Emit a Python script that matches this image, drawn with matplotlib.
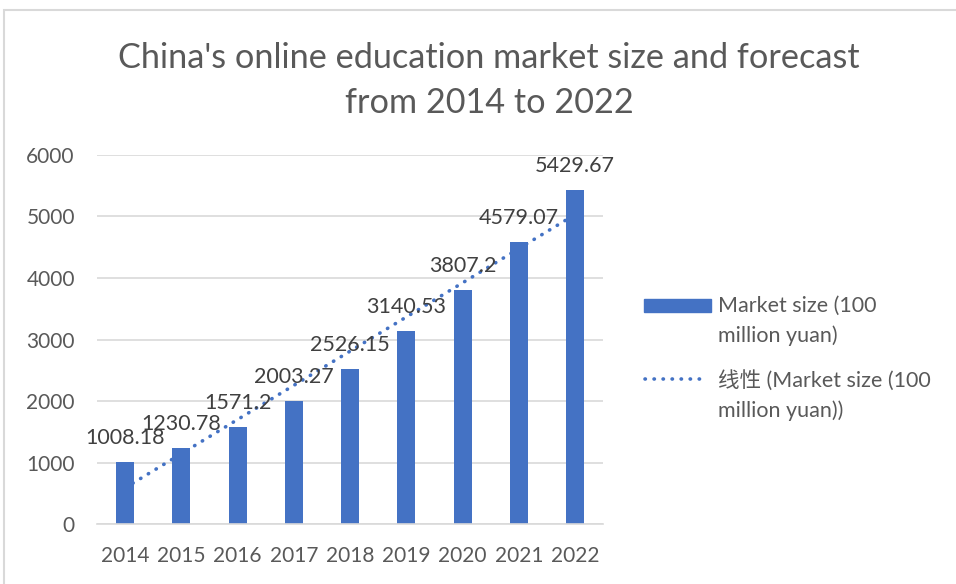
import numpy as np
import matplotlib.pyplot as plt
from matplotlib.lines import Line2D
from matplotlib.patches import Rectangle

plt.rcParams['font.family'] = ['Lato', 'Noto Sans CJK SC', 'DejaVu Sans']

years = ['2014', '2015', '2016', '2017', '2018', '2019', '2020', '2021', '2022']
market_size = [1008.18, 1230.78, 1571.2, 2003.27, 2526.15, 3140.53, 3807.2, 4579.07, 5429.67]
value_labels = ['1008.18', '1230.78', '1571.2', '2003.27', '2526.15', '3140.53', '3807.2', '4579.07', '5429.67']

blue = '#4472C4'
grey = '#595959'
dots = (0, (0.1, 2.4))

fig = plt.figure(figsize=(9.56, 5.84), dpi=100)
ax = fig.add_axes([0.1015, 0.1027, 0.5295, 0.6319])

x = np.arange(len(years))
ax.bar(x, market_size, width=0.32, color=blue, zorder=2)

# linear trendline (least squares fit, like Excel's)
coef = np.polyfit(x, market_size, 1)
ax.plot(x, np.polyval(coef, x), color=blue, linewidth=2.6,
        linestyle=dots, dash_capstyle='round', zorder=3)

for xi, v, lab in zip(x, market_size, value_labels):
    ax.annotate(lab, (xi, v), xytext=(0, 13), textcoords='offset points',
                ha='center', va='baseline', fontsize=15.5, color='#404040', zorder=4)

ax.set_xlim(-0.5, len(years) - 0.5)
ax.set_ylim(0, 6000)
ax.set_yticks(range(0, 6001, 1000))
ax.set_xticks(x)
ax.set_xticklabels(years)
ax.grid(axis='y', color='#d9d9d9', linewidth=1.2, zorder=0)
ax.set_axisbelow(True)
for s in ['top', 'right', 'left']:
    ax.spines[s].set_visible(False)
ax.spines['bottom'].set_color('#d9d9d9')
ax.spines['bottom'].set_linewidth(1.2)
ax.tick_params(axis='both', length=0, labelsize=15, labelcolor=grey)
ax.tick_params(axis='y', pad=16)
ax.tick_params(axis='x', pad=16)

fig.text(0.5115, 0.862, "China's online education market size and forecast\nfrom 2014 to 2022",
         ha='center', va='center', fontsize=24.7, color=grey, linespacing=1.48)

# legend
fig.patches.append(Rectangle((644 / 956, 1 - 312 / 584), 67 / 956, 13 / 584,
                             transform=fig.transFigure, color=blue))
fig.lines.append(Line2D([645 / 956, 706 / 956], [1 - 379 / 584] * 2, transform=fig.transFigure,
                        color=blue, linewidth=2.6, linestyle=dots, dash_capstyle='round'))
fig.text(718 / 956, 1 - 296 / 584, 'Market size (100\nmillion yuan)', ha='left', va='top',
         fontsize=15.5, color=grey, linespacing=1.55, transform=fig.transFigure)
fig.text(718 / 956, 1 - 370 / 584, '线性 (Market size (100\nmillion yuan))', ha='left', va='top',
         fontsize=15.5, color=grey, linespacing=1.55, transform=fig.transFigure)

# chart border
fig.patches.append(Rectangle((4 / 956, -0.05), 1.1, 1 - 10 / 584 + 0.05,
                             transform=fig.transFigure, fill=False, edgecolor='#d9d9d9',
                             linewidth=1.5))

fig.savefig('out.png', dpi=100)
